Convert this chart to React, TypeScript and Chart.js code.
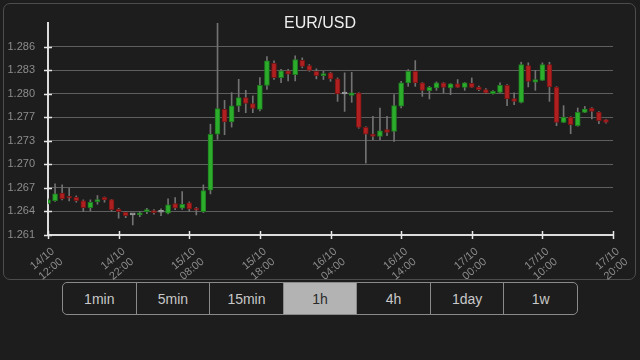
import React, { useEffect, useRef } from 'react';
import { Chart, registerables } from 'chart.js';

Chart.register(...registerables);

const chartTitle = 'EUR/USD';

// hourly candles from 14/10 12:00 (index 0) to 17/10 19:00 (index 79)
const opens = [
  1.26519, 1.26556, 1.26655, 1.26601, 1.26601, 1.26552, 1.26463, 1.26543, 1.26601, 1.2657,
  1.26442, 1.26402, 1.26366, 1.26366, 1.2641, 1.26419, 1.26402, 1.26389, 1.26516, 1.26455,
  1.26526, 1.26455, 1.2641, 1.26695, 1.27437, 1.27766, 1.27599, 1.27812, 1.27922, 1.27842,
  1.27766, 1.28086, 1.28378, 1.28188, 1.28277, 1.28228, 1.28418, 1.28348, 1.28272, 1.28215,
  1.2825, 1.28171, 1.27971, 1.27953, 1.27985, 1.27527, 1.27439, 1.27407, 1.27497, 1.27474,
  1.27809, 1.28118, 1.28272, 1.28118, 1.28015, 1.28051, 1.28118, 1.28051, 1.28104, 1.28059,
  1.28112, 1.28064, 1.28029, 1.27975, 1.27993, 1.28086, 1.27909, 1.2786, 1.28348, 1.28126,
  1.28152, 1.28361, 1.28064, 1.27594, 1.27665, 1.2755, 1.27727, 1.27785, 1.27732, 1.2763,
];
const highs = [
  1.26579, 1.26778, 1.26765, 1.26721, 1.26619, 1.26566, 1.26566, 1.26623, 1.26605, 1.26572,
  1.26455, 1.2641, 1.26375, 1.2641, 1.26455, 1.26436, 1.26446, 1.26579, 1.26596, 1.26676,
  1.26539, 1.26466, 1.26765, 1.2757, 1.2891, 1.27886, 1.27989, 1.28165, 1.28019, 1.27945,
  1.28188, 1.28467, 1.2841, 1.28298, 1.28298, 1.28477, 1.2845, 1.28361, 1.28304, 1.28272,
  1.28259, 1.28184, 1.28251, 1.28259, 1.27989, 1.27536, 1.27673, 1.27785, 1.27673, 1.27962,
  1.28139, 1.28295, 1.28414, 1.28122, 1.28072, 1.28131, 1.28122, 1.28108, 1.28162, 1.28122,
  1.28184, 1.28075, 1.28042, 1.28015, 1.28118, 1.28095, 1.27985, 1.28392, 1.28384, 1.28285,
  1.28384, 1.28392, 1.28068, 1.27816, 1.2767, 1.27785, 1.27806, 1.27789, 1.27736, 1.27636,
];
const lows = [
  1.26512, 1.26546, 1.26566, 1.26552, 1.26535, 1.2641, 1.26419, 1.26508, 1.26535, 1.26419,
  1.26322, 1.2633, 1.26233, 1.26343, 1.26383, 1.26375, 1.26357, 1.26379, 1.26436, 1.26439,
  1.2641, 1.26366, 1.26397, 1.26645, 1.27368, 1.2743, 1.27532, 1.27736, 1.27723, 1.27723,
  1.27745, 1.28032, 1.28165, 1.28122, 1.28144, 1.28144, 1.28317, 1.28272, 1.28171, 1.28162,
  1.28139, 1.27873, 1.2774, 1.2786, 1.27516, 1.27054, 1.27364, 1.27364, 1.27417, 1.27341,
  1.27785, 1.28072, 1.28072, 1.27939, 1.27905, 1.28019, 1.27985, 1.27962, 1.28055, 1.28019,
  1.28055, 1.28015, 1.27975, 1.27969, 1.27989, 1.27816, 1.2783, 1.27852, 1.28064, 1.28019,
  1.28148, 1.27873, 1.2755, 1.2759, 1.27443, 1.27543, 1.27723, 1.27639, 1.27576, 1.27583,
];
const closes = [
  1.26566, 1.26645, 1.26579, 1.26588, 1.26556, 1.26463, 1.26535, 1.26566, 1.26566, 1.26436,
  1.2641, 1.26357, 1.26366, 1.26389, 1.26429, 1.26397, 1.26402, 1.26499, 1.26455, 1.26508,
  1.26446, 1.26429, 1.26689, 1.27437, 1.27776, 1.27599, 1.27812, 1.27922, 1.27846, 1.2778,
  1.28086, 1.2841, 1.28188, 1.28277, 1.28232, 1.28428, 1.28338, 1.28285, 1.28215, 1.28241,
  1.28171, 1.27971, 1.27971, 1.27985, 1.27527, 1.27439, 1.27407, 1.27483, 1.27461, 1.27816,
  1.28118, 1.28272, 1.28118, 1.28019, 1.28059, 1.28118, 1.28059, 1.28104, 1.28059, 1.28118,
  1.28059, 1.28029, 1.27985, 1.28006, 1.28086, 1.27905, 1.27873, 1.28361, 1.28139, 1.28162,
  1.28361, 1.28064, 1.27594, 1.27665, 1.27563, 1.27727, 1.27772, 1.2774, 1.27616, 1.27594,
];

const xTickHours = [0, 10, 20, 30, 40, 50, 60, 70, 80];
const xTickLabels = [
  ['14/10', '12:00'], ['14/10', '22:00'], ['15/10', '08:00'], ['15/10', '18:00'],
  ['16/10', '04:00'], ['16/10', '14:00'], ['17/10', '00:00'], ['17/10', '10:00'], ['17/10', '20:00'],
];
const yMin = 1.261;
const yMax = 1.289125;
const yTickValues = [1.261, 1.264125, 1.26725, 1.270375, 1.2735, 1.276625, 1.27975, 1.282875, 1.286];
const yTickLabels = ['1.261', '1.264', '1.267', '1.270', '1.273', '1.277', '1.280', '1.283', '1.286'];

const periods = ['1min', '5min', '15min', '1h', '4h', '1day', '1w'];
const selectedPeriod = '1h';

const FONT = "'Liberation Sans', Arial, Helvetica, sans-serif";
const UP = '#2cae2c';
const UP_EDGE = '#1d7a1d';
const DOWN = '#b02020';
const DOWN_EDGE = '#741414';
const FLAT = '#9a9a9a';

const axisTicks = {
  id: 'axisTicks',
  afterDraw(chart: any) {
    const { ctx, chartArea } = chart;
    const xs = chart.scales.x;
    const ys = chart.scales.y;
    ctx.save();
    ctx.strokeStyle = '#e6e6e6';
    ctx.lineWidth = 1.5;
    ys.ticks.forEach((t: any) => {
      const py = Math.round(ys.getPixelForValue(t.value)) + 0.5;
      ctx.beginPath();
      ctx.moveTo(chartArea.left - 4, py);
      ctx.lineTo(chartArea.left + 4, py);
      ctx.stroke();
    });
    xs.ticks.forEach((t: any) => {
      const px = Math.round(xs.getPixelForValue(t.value)) + 0.5;
      ctx.beginPath();
      ctx.moveTo(px, chartArea.bottom - 4);
      ctx.lineTo(px, chartArea.bottom + 4);
      ctx.stroke();
    });
    ctx.restore();
  },
};

function CandleChart() {
  const ref = useRef<HTMLCanvasElement>(null);
  useEffect(() => {
    if (!ref.current) return;
    const bodyColor = (i: number) =>
      closes[i] > opens[i] ? UP : closes[i] < opens[i] ? DOWN : FLAT;
    const edgeColor = (i: number) =>
      closes[i] > opens[i] ? UP_EDGE : closes[i] < opens[i] ? DOWN_EDGE : FLAT;
    const chart = new Chart(ref.current, {
      type: 'bar',
      data: {
        datasets: [
          {
            label: 'body',
            data: opens.map((o, i) => ({ x: i, y: [o, closes[i]] })) as any,
            backgroundColor: opens.map((_, i) => bodyColor(i)),
            borderColor: opens.map((_, i) => edgeColor(i)),
            borderWidth: 1,
            borderSkipped: false,
            barThickness: 5,
            minBarLength: 2,
            grouped: false,
            order: 0,
          } as any,
          {
            label: 'wick',
            data: lows.map((l, i) => ({ x: i, y: [l, highs[i]] })) as any,
            backgroundColor: '#727272',
            borderWidth: 0,
            barThickness: 1,
            grouped: false,
            order: 1,
          } as any,
        ],
      },
      options: {
        animation: false,
        responsive: false,
        maintainAspectRatio: false,
        layout: { padding: { top: 23, right: 25, left: 0, bottom: 0 } },
        plugins: { legend: { display: false }, tooltip: { enabled: false }, title: { display: false } },
        scales: {
          x: {
            type: 'linear',
            min: 0,
            max: 80,
            offset: false,
            afterBuildTicks: (s: any) => {
              s.ticks = xTickHours.map((v) => ({ value: v }));
            },
            afterFit: (s: any) => {
              s.height = 47;
            },
            ticks: {
              autoSkip: false,
              minRotation: 40,
              maxRotation: 40,
              padding: 10,
              labelOffset: 5,
              color: '#8c8c8c',
              font: { family: FONT, size: 11 },
              callback: (v: any) => {
                const k = xTickHours.indexOf(Number(v));
                return k >= 0 ? xTickLabels[k] : '';
              },
            },
            grid: { display: false, drawTicks: false },
            border: { display: true, color: '#dcdcdc', width: 2 },
          },
          y: {
            type: 'linear',
            min: yMin,
            max: yMax,
            afterBuildTicks: (s: any) => {
              s.ticks = yTickValues.map((v) => ({ value: v }));
            },
            afterFit: (s: any) => {
              s.width = 48;
            },
            ticks: {
              padding: 13,
              color: '#8c8c8c',
              font: { family: FONT, size: 11 },
              callback: (v: any) => {
                const k = yTickValues.findIndex((t) => Math.abs(t - Number(v)) < 1e-7);
                return k >= 0 ? yTickLabels[k] : '';
              },
            },
            grid: { color: '#5e5e5e', lineWidth: 1, drawTicks: false },
            border: { display: true, color: '#dcdcdc', width: 2 },
          },
        },
      } as any,
      plugins: [axisTicks],
    });
    return () => chart.destroy();
  }, []);
  return (
    <canvas
      ref={ref}
      width={640}
      height={282}
      style={{ position: 'absolute', left: 0, top: 0, width: 640, height: 282 }}
    />
  );
}

export default function App() {
  useEffect(() => {
    document.body.style.margin = '0';
    document.body.style.background = '#1d1d1d';
  }, []);
  return (
    <div
      style={{
        position: 'relative',
        width: 640,
        height: 360,
        background: '#1d1d1d',
        overflow: 'hidden',
        fontFamily: FONT,
      }}
    >
      <div
        style={{
          position: 'absolute',
          left: 3,
          top: 3,
          width: 631,
          height: 275,
          border: '1px solid #4c4c4c',
          borderRadius: 7,
          boxSizing: 'content-box',
        }}
      />
      <CandleChart />
      <div
        style={{
          position: 'absolute',
          left: 0,
          top: 14,
          width: 640,
          textAlign: 'center',
          color: '#eeeeee',
          fontSize: 16,
          lineHeight: '18px',
          pointerEvents: 'none',
        }}
      >
        {chartTitle}
      </div>
      <div
        style={{
          position: 'absolute',
          left: 62,
          top: 282,
          width: 514,
          height: 31,
          border: '1px solid #8a8a8a',
          borderRadius: 5,
          display: 'flex',
          overflow: 'hidden',
        }}
      >
        {periods.map((p, i) => (
          <div
            key={p}
            style={{
              flex: 1,
              display: 'flex',
              alignItems: 'center',
              justifyContent: 'center',
              fontSize: 14,
              color: p === selectedPeriod ? '#2a2a2a' : '#c8c8c8',
              background: p === selectedPeriod ? '#b3b3b3' : 'transparent',
              borderLeft: i === 0 ? 'none' : '1px solid #8a8a8a',
            }}
          >
            {p}
          </div>
        ))}
      </div>
    </div>
  );
}
